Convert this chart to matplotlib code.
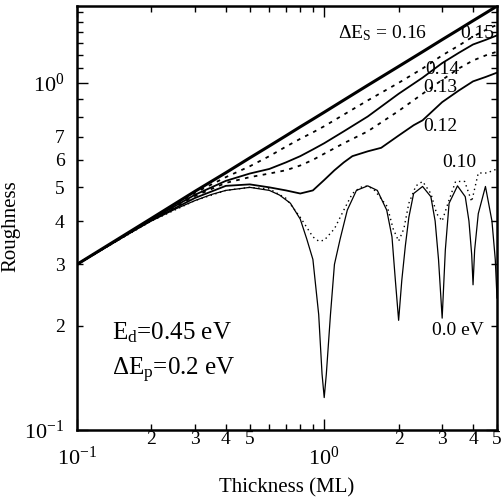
import matplotlib.pyplot as plt
from matplotlib.ticker import FixedLocator, FixedFormatter

plt.rcParams['font.family'] = ['Liberation Serif', 'DejaVu Serif']
plt.rcParams['mathtext.fontset'] = 'custom'
plt.rcParams['mathtext.rm'] = 'Liberation Serif'
plt.rcParams['mathtext.it'] = 'Liberation Serif:italic'

# thickness values (ML)
t_main = [0.1, 0.2, 0.3, 0.4, 0.5, 0.6, 0.7, 0.8, 0.9, 1.0, 1.2, 1.5, 2.0, 2.5, 3.0, 3.5, 4.0, 4.5, 5.0]

r_016 = [0.30, 0.407, 0.487, 0.551, 0.608, 0.658, 0.704, 0.747, 0.786, 0.823, 0.892, 0.984, 1.115, 1.229, 1.332, 1.424, 1.51, 1.589, 1.664]
r_015 = [0.30, 0.405, 0.482, 0.535, 0.575, 0.615, 0.655, 0.69, 0.72, 0.75, 0.81, 0.89, 1.0, 1.10, 1.20, 1.28, 1.36, 1.42, 1.47]
r_014 = [0.30, 0.404, 0.476, 0.522, 0.548, 0.565, 0.59, 0.615, 0.643, 0.67, 0.725, 0.80, 0.93, 1.035, 1.14, 1.22, 1.29, 1.33, 1.37]
r_013 = [0.30, 0.403, 0.472, 0.515, 0.535, 0.548, 0.56, 0.578, 0.60, 0.625, 0.67, 0.725, 0.83, 0.93, 1.02, 1.10, 1.16, 1.20, 1.23]

t_012 = [0.1, 0.2, 0.3, 0.4, 0.5, 0.6, 0.7, 0.8, 0.9, 1.0, 1.1, 1.2, 1.3, 1.5, 1.7, 2.0, 2.3, 2.5, 3.0, 3.5, 4.0, 4.5, 5.0]
r_012 = [0.30, 0.402, 0.466, 0.505, 0.51, 0.50, 0.49, 0.48, 0.49, 0.525, 0.56, 0.59, 0.615, 0.635, 0.65, 0.705, 0.755, 0.78, 0.88, 0.95, 1.01, 1.04, 1.07]

t_010 = [0.1, 0.2, 0.3, 0.4, 0.5, 0.6, 0.7, 0.8, 0.9, 0.95, 1.0, 1.1, 1.2, 1.3, 1.4, 1.5, 1.6, 1.8, 1.9, 2.0, 2.1, 2.2, 2.35, 2.5,
         2.7, 2.85, 3.0, 3.2, 3.4, 3.7, 3.95, 4.2, 4.55, 5.0]
r_010 = [0.30, 0.40, 0.458, 0.49, 0.50, 0.495, 0.465, 0.41, 0.36, 0.35, 0.352, 0.38, 0.43, 0.48, 0.50, 0.505, 0.49, 0.44, 0.38, 0.35,
         0.38, 0.45, 0.505, 0.52, 0.48, 0.42, 0.40, 0.46, 0.52, 0.52, 0.455, 0.55, 0.55, 0.565]

t_000 = [0.1, 0.15, 0.2, 0.25, 0.3, 0.35, 0.4, 0.5, 0.6, 0.66, 0.73, 0.8, 0.85, 0.9, 0.95, 0.98, 1.0, 1.02, 1.06, 1.1, 1.16, 1.24,
         1.35, 1.5, 1.64, 1.79, 1.88, 1.94, 2.0, 2.06, 2.13, 2.2, 2.3, 2.5, 2.7, 2.81, 2.9, 3.0, 3.09, 3.2, 3.46, 3.72, 3.85,
         3.95, 4.0, 4.06, 4.2, 4.49, 4.77, 4.92, 5.0]
r_000 = [0.30, 0.357, 0.40, 0.433, 0.458, 0.477, 0.49, 0.50, 0.49, 0.475, 0.45, 0.405, 0.355, 0.31, 0.215, 0.145, 0.124, 0.145,
         0.215, 0.30, 0.355, 0.43, 0.49, 0.505, 0.49, 0.43, 0.36, 0.27, 0.207, 0.27, 0.34, 0.41, 0.48, 0.503, 0.47, 0.40, 0.31,
         0.21, 0.33, 0.45, 0.505, 0.47, 0.40, 0.32, 0.262, 0.33, 0.42, 0.503, 0.40, 0.31, 0.24]

x_minor = [0.2, 0.3, 0.4, 0.5, 0.6, 0.7, 0.8, 0.9, 2, 3, 4, 5]
x_minor_labels = ['2', '3', '4', '5', '', '', '', '', '2', '3', '4', '5']
y_minor = [0.2, 0.3, 0.4, 0.5, 0.6, 0.7, 0.8, 0.9, 1.1, 1.2, 1.3, 1.4, 1.5, 1.6]
y_minor_labels = ['2', '3', '4', '5', '6', '7', '', '', '', '', '', '', '', '']

fig = plt.figure(figsize=(5.03, 4.98), dpi=100)
ax = fig.add_axes([77 / 503, 68 / 498, 420 / 503, 424 / 498])

ax.plot(t_main, r_016, color='black', lw=2.2)
ax.plot(t_main, r_015, color='black', lw=1.3, ls=(0, (2, 3)))
ax.plot(t_main, r_014, color='black', lw=1.3)
ax.plot(t_main, r_013, color='black', lw=1.3, ls=(0, (2, 3)))
ax.plot(t_012, r_012, color='black', lw=1.3)
ax.plot(t_010, r_010, color='black', lw=1.0, ls=(0, (1, 2.5)))
ax.plot(t_000, r_000, color='black', lw=0.9)

ax.set_xscale('log')
ax.set_yscale('log')
ax.set_xlim(0.1, 5)
ax.set_ylim(0.1, 1.665)

ax.xaxis.set_major_locator(FixedLocator([0.1, 1]))
ax.xaxis.set_major_formatter(FixedFormatter([r'$10^{-1}$', r'$10^{0}$']))
ax.xaxis.set_minor_locator(FixedLocator(x_minor))
ax.xaxis.set_minor_formatter(FixedFormatter(x_minor_labels))
ax.yaxis.set_major_locator(FixedLocator([0.1, 1]))
ax.yaxis.set_major_formatter(FixedFormatter([r'$10^{-1}$', r'$10^{0}$']))
ax.yaxis.set_minor_locator(FixedLocator(y_minor))
ax.yaxis.set_minor_formatter(FixedFormatter(y_minor_labels))

ax.tick_params(which='both', direction='in', top=True, right=True, width=1.0)
ax.tick_params(which='major', length=8, labelsize=16)
ax.tick_params(which='minor', length=4, labelsize=14)
ax.tick_params(axis='x', which='major', pad=12)
ax.tick_params(axis='x', which='minor', pad=1)
ax.tick_params(axis='y', which='both', pad=9)
for s in ax.spines.values():
    s.set_linewidth(1.8)

ax.set_xlabel('Thickness (ML)', fontsize=15)
ax.xaxis.set_label_coords(0.5, -0.113)
ax.set_ylabel('Roughness', fontsize=15)
ax.yaxis.set_label_coords(-0.135, 0.48)

ax.text(1.14, 1.39, r'$\Delta$E$_\mathrm{S}$ = 0.16', fontsize=14, ha='left', va='center')
ax.text(3.55, 1.39, '0.15', fontsize=14, ha='left', va='center')
ax.text(2.56, 1.09, '0.14', fontsize=14, ha='left', va='center')
ax.text(2.52, 0.967, '0.13', fontsize=14, ha='left', va='center')
ax.text(2.52, 0.747, '0.12', fontsize=14, ha='left', va='center')
ax.text(3.0, 0.588, '0.10', fontsize=14, ha='left', va='center')
ax.text(2.74, 0.194, '0.0 eV', fontsize=14, ha='left', va='center')
ax.text(0.139, 0.191, r'E$_\mathrm{d}$=0.45 eV', fontsize=18, ha='left', va='center')
ax.text(0.139, 0.148, r'$\Delta$E$_\mathrm{p}$=0.2 eV', fontsize=18, ha='left', va='center')

fig.savefig('out.png', dpi=100)
